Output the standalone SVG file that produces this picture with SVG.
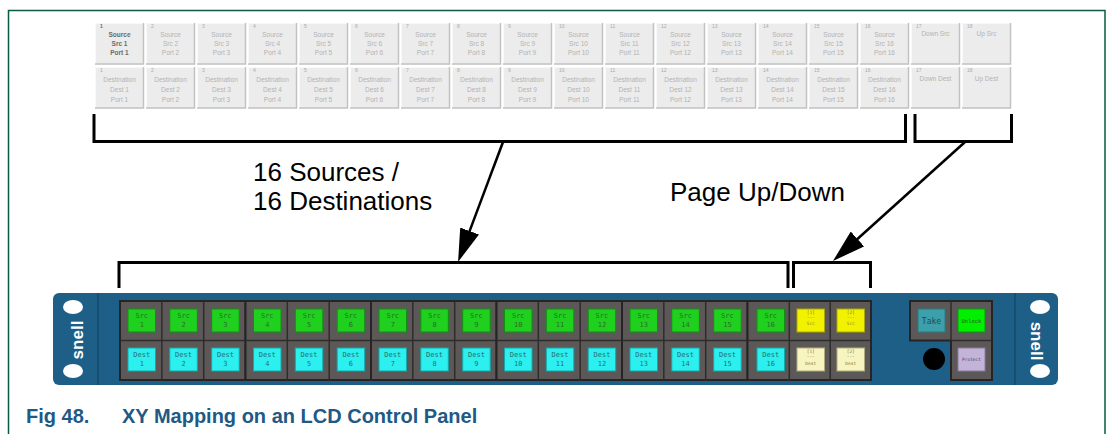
<svg xmlns="http://www.w3.org/2000/svg" xmlns:xlink="http://www.w3.org/1999/xlink" width="1113" height="434" viewBox="0 0 1113 434">
  <style>
    .frame { fill: none; stroke: #0b5a45; stroke-width: 1.5; }
    .kn { font-family: "Liberation Sans", Arial, sans-serif; font-size: 5px; fill: #ababab; }
    .kt { font-family: "Liberation Sans", Arial, sans-serif; font-size: 6.5px; fill: #b3b3b3; text-anchor: middle; }
    .on .kt, .on .kn { fill: #6a6a6a; font-weight: bold; }
    .brk { fill: none; stroke: #000; stroke-width: 3; }
    .arr { fill: none; stroke: #000; stroke-width: 2.5; }
    .lbl { font-family: "Liberation Sans", Arial, sans-serif; font-size: 26px; fill: #000; }
    .cap { font-family: "Liberation Sans", Arial, sans-serif; font-size: 20px; font-weight: bold; fill: #1e5a85; }
    .body { fill: #1e5f88; }
    .ear { stroke: #154a6b; stroke-width: 1.5; }
    .hole { fill: #fff; }
    .logo { font-family: "Liberation Sans", Arial, sans-serif; font-size: 17px; font-weight: bold; fill: #fff; text-anchor: middle; }
    .grp { fill: #5d5858; stroke: #262424; stroke-width: 2; }
    .sep { fill: none; stroke: #2f2c2c; stroke-width: 1.5; }
    .src { fill: #1fd01f; stroke: #139013; stroke-width: 1; }
    .dst { fill: #2cf0f0; stroke: #14a8a8; stroke-width: 1; }
    .pgs { fill: #f2f200; stroke: #a8a800; stroke-width: 1; }
    .pgd { fill: #f8f4bf; stroke: #b0ac80; stroke-width: 1; }
    .bt { font-family: "DejaVu Sans Mono", "Liberation Mono", monospace; font-size: 7px; text-anchor: middle; }
    .bt.s { fill: #2a6e2a; }
    .bt.d { fill: #2a6f6f; }
    .pt { font-family: "DejaVu Sans Mono", "Liberation Mono", monospace; font-size: 4.5px; text-anchor: middle; fill: #7a7a40; }
  </style>
  <defs>
    <!-- soft-key face used by the LCD grid -->
    <g id="key">
      <rect width="49" height="41.5" fill="#ececec"/>
      <path d="M0.5,41.5 V0.5 H49" fill="none" stroke="#f9f9f9" stroke-width="1"/>
      <path d="M0,41 H48.5 V0" fill="none" stroke="#c2c2c2" stroke-width="1.5"/>
    </g>
    <marker id="head" viewBox="0 0 33 20" refX="18" refY="10" markerWidth="33" markerHeight="20" markerUnits="userSpaceOnUse" orient="auto">
      <path d="M0,0 L33,10 L0,20 Z" fill="#000"/>
    </marker>
  </defs>

  <rect width="1113" height="434" fill="#fff"/>
  <path class="frame" d="M8.5,434 V10.5 H1105 V434"/>

  <!-- LCD soft-key grid: sources (top row) -->
  <g id="lcd-sources">
    <g class="on" transform="translate(95,23)"><use href="#key"/><text class="kn" x="5" y="5">1</text><text class="kt" x="24.5" y="13.6">Source</text><text class="kt" x="24.5" y="22.6">Src 1</text><text class="kt" x="24.5" y="31.6">Port 1</text></g>
    <g transform="translate(146,23)"><use href="#key"/><text class="kn" x="5" y="5">2</text><text class="kt" x="24.5" y="13.6">Source</text><text class="kt" x="24.5" y="22.6">Src 2</text><text class="kt" x="24.5" y="31.6">Port 2</text></g>
    <g transform="translate(197,23)"><use href="#key"/><text class="kn" x="5" y="5">3</text><text class="kt" x="24.5" y="13.6">Source</text><text class="kt" x="24.5" y="22.6">Src 3</text><text class="kt" x="24.5" y="31.6">Port 3</text></g>
    <g transform="translate(248,23)"><use href="#key"/><text class="kn" x="5" y="5">4</text><text class="kt" x="24.5" y="13.6">Source</text><text class="kt" x="24.5" y="22.6">Src 4</text><text class="kt" x="24.5" y="31.6">Port 4</text></g>
    <g transform="translate(299,23)"><use href="#key"/><text class="kn" x="5" y="5">5</text><text class="kt" x="24.5" y="13.6">Source</text><text class="kt" x="24.5" y="22.6">Src 5</text><text class="kt" x="24.5" y="31.6">Port 5</text></g>
    <g transform="translate(350,23)"><use href="#key"/><text class="kn" x="5" y="5">6</text><text class="kt" x="24.5" y="13.6">Source</text><text class="kt" x="24.5" y="22.6">Src 6</text><text class="kt" x="24.5" y="31.6">Port 6</text></g>
    <g transform="translate(401,23)"><use href="#key"/><text class="kn" x="5" y="5">7</text><text class="kt" x="24.5" y="13.6">Source</text><text class="kt" x="24.5" y="22.6">Src 7</text><text class="kt" x="24.5" y="31.6">Port 7</text></g>
    <g transform="translate(452,23)"><use href="#key"/><text class="kn" x="5" y="5">8</text><text class="kt" x="24.5" y="13.6">Source</text><text class="kt" x="24.5" y="22.6">Src 8</text><text class="kt" x="24.5" y="31.6">Port 8</text></g>
    <g transform="translate(503,23)"><use href="#key"/><text class="kn" x="5" y="5">9</text><text class="kt" x="24.5" y="13.6">Source</text><text class="kt" x="24.5" y="22.6">Src 9</text><text class="kt" x="24.5" y="31.6">Port 9</text></g>
    <g transform="translate(554,23)"><use href="#key"/><text class="kn" x="5" y="5">10</text><text class="kt" x="24.5" y="13.6">Source</text><text class="kt" x="24.5" y="22.6">Src 10</text><text class="kt" x="24.5" y="31.6">Port 10</text></g>
    <g transform="translate(605,23)"><use href="#key"/><text class="kn" x="5" y="5">11</text><text class="kt" x="24.5" y="13.6">Source</text><text class="kt" x="24.5" y="22.6">Src 11</text><text class="kt" x="24.5" y="31.6">Port 11</text></g>
    <g transform="translate(656,23)"><use href="#key"/><text class="kn" x="5" y="5">12</text><text class="kt" x="24.5" y="13.6">Source</text><text class="kt" x="24.5" y="22.6">Src 12</text><text class="kt" x="24.5" y="31.6">Port 12</text></g>
    <g transform="translate(707,23)"><use href="#key"/><text class="kn" x="5" y="5">13</text><text class="kt" x="24.5" y="13.6">Source</text><text class="kt" x="24.5" y="22.6">Src 13</text><text class="kt" x="24.5" y="31.6">Port 13</text></g>
    <g transform="translate(758,23)"><use href="#key"/><text class="kn" x="5" y="5">14</text><text class="kt" x="24.5" y="13.6">Source</text><text class="kt" x="24.5" y="22.6">Src 14</text><text class="kt" x="24.5" y="31.6">Port 14</text></g>
    <g transform="translate(809,23)"><use href="#key"/><text class="kn" x="5" y="5">15</text><text class="kt" x="24.5" y="13.6">Source</text><text class="kt" x="24.5" y="22.6">Src 15</text><text class="kt" x="24.5" y="31.6">Port 15</text></g>
    <g transform="translate(860,23)"><use href="#key"/><text class="kn" x="5" y="5">16</text><text class="kt" x="24.5" y="13.6">Source</text><text class="kt" x="24.5" y="22.6">Src 16</text><text class="kt" x="24.5" y="31.6">Port 16</text></g>
    <g transform="translate(911,23)"><use href="#key"/><text class="kn" x="5" y="5">17</text><text class="kt" x="24.5" y="12.5">Down Src</text></g>
    <g transform="translate(962,23)"><use href="#key"/><text class="kn" x="5" y="5">18</text><text class="kt" x="24.5" y="12.5">Up Src</text></g>
  </g>

  <!-- LCD soft-key grid: destinations (bottom row) -->
  <g id="lcd-destinations">
    <g transform="translate(95,67)"><use href="#key"/><text class="kn" x="5" y="5">1</text><text class="kt" x="24.5" y="15.3">Destination</text><text class="kt" x="24.5" y="25.3">Dest 1</text><text class="kt" x="24.5" y="34.6">Port 1</text></g>
    <g transform="translate(146,67)"><use href="#key"/><text class="kn" x="5" y="5">2</text><text class="kt" x="24.5" y="15.3">Destination</text><text class="kt" x="24.5" y="25.3">Dest 2</text><text class="kt" x="24.5" y="34.6">Port 2</text></g>
    <g transform="translate(197,67)"><use href="#key"/><text class="kn" x="5" y="5">3</text><text class="kt" x="24.5" y="15.3">Destination</text><text class="kt" x="24.5" y="25.3">Dest 3</text><text class="kt" x="24.5" y="34.6">Port 3</text></g>
    <g transform="translate(248,67)"><use href="#key"/><text class="kn" x="5" y="5">4</text><text class="kt" x="24.5" y="15.3">Destination</text><text class="kt" x="24.5" y="25.3">Dest 4</text><text class="kt" x="24.5" y="34.6">Port 4</text></g>
    <g transform="translate(299,67)"><use href="#key"/><text class="kn" x="5" y="5">5</text><text class="kt" x="24.5" y="15.3">Destination</text><text class="kt" x="24.5" y="25.3">Dest 5</text><text class="kt" x="24.5" y="34.6">Port 5</text></g>
    <g transform="translate(350,67)"><use href="#key"/><text class="kn" x="5" y="5">6</text><text class="kt" x="24.5" y="15.3">Destination</text><text class="kt" x="24.5" y="25.3">Dest 6</text><text class="kt" x="24.5" y="34.6">Port 6</text></g>
    <g transform="translate(401,67)"><use href="#key"/><text class="kn" x="5" y="5">7</text><text class="kt" x="24.5" y="15.3">Destination</text><text class="kt" x="24.5" y="25.3">Dest 7</text><text class="kt" x="24.5" y="34.6">Port 7</text></g>
    <g transform="translate(452,67)"><use href="#key"/><text class="kn" x="5" y="5">8</text><text class="kt" x="24.5" y="15.3">Destination</text><text class="kt" x="24.5" y="25.3">Dest 8</text><text class="kt" x="24.5" y="34.6">Port 8</text></g>
    <g transform="translate(503,67)"><use href="#key"/><text class="kn" x="5" y="5">9</text><text class="kt" x="24.5" y="15.3">Destination</text><text class="kt" x="24.5" y="25.3">Dest 9</text><text class="kt" x="24.5" y="34.6">Port 9</text></g>
    <g transform="translate(554,67)"><use href="#key"/><text class="kn" x="5" y="5">10</text><text class="kt" x="24.5" y="15.3">Destination</text><text class="kt" x="24.5" y="25.3">Dest 10</text><text class="kt" x="24.5" y="34.6">Port 10</text></g>
    <g transform="translate(605,67)"><use href="#key"/><text class="kn" x="5" y="5">11</text><text class="kt" x="24.5" y="15.3">Destination</text><text class="kt" x="24.5" y="25.3">Dest 11</text><text class="kt" x="24.5" y="34.6">Port 11</text></g>
    <g transform="translate(656,67)"><use href="#key"/><text class="kn" x="5" y="5">12</text><text class="kt" x="24.5" y="15.3">Destination</text><text class="kt" x="24.5" y="25.3">Dest 12</text><text class="kt" x="24.5" y="34.6">Port 12</text></g>
    <g transform="translate(707,67)"><use href="#key"/><text class="kn" x="5" y="5">13</text><text class="kt" x="24.5" y="15.3">Destination</text><text class="kt" x="24.5" y="25.3">Dest 13</text><text class="kt" x="24.5" y="34.6">Port 13</text></g>
    <g transform="translate(758,67)"><use href="#key"/><text class="kn" x="5" y="5">14</text><text class="kt" x="24.5" y="15.3">Destination</text><text class="kt" x="24.5" y="25.3">Dest 14</text><text class="kt" x="24.5" y="34.6">Port 14</text></g>
    <g transform="translate(809,67)"><use href="#key"/><text class="kn" x="5" y="5">15</text><text class="kt" x="24.5" y="15.3">Destination</text><text class="kt" x="24.5" y="25.3">Dest 15</text><text class="kt" x="24.5" y="34.6">Port 15</text></g>
    <g transform="translate(860,67)"><use href="#key"/><text class="kn" x="5" y="5">16</text><text class="kt" x="24.5" y="15.3">Destination</text><text class="kt" x="24.5" y="25.3">Dest 16</text><text class="kt" x="24.5" y="34.6">Port 16</text></g>
    <g transform="translate(911,67)"><use href="#key"/><text class="kn" x="5" y="5">17</text><text class="kt" x="24.5" y="13.5">Down Dest</text></g>
    <g transform="translate(962,67)"><use href="#key"/><text class="kn" x="5" y="5">18</text><text class="kt" x="24.5" y="13.5">Up Dest</text></g>
  </g>

  <!-- brackets and callout labels -->
  <g id="label-sources">
    <text class="lbl" x="253" y="181">16 Sources /</text>
    <text class="lbl" x="253" y="210">16 Destinations</text>
  </g>
  <g id="label-page">
    <text class="lbl" x="670" y="201">Page Up/Down</text>
  </g>

  <g id="connectors">
    <path class="brk" d="M94,114 V141.5 H905.5 V114"/>
    <path class="brk" d="M915,114 V141.5 H1011.5 V114"/>
    <path class="brk" d="M119,288 V262.5 H788 V288"/>
    <path class="brk" d="M793.5,288 V262.5 H870.5 V288"/>
    <path class="arr" d="M503,142 L463.3,247.9" marker-end="url(#head)"/>
    <path class="arr" d="M965,142 L844.1,251" marker-end="url(#head)"/>
  </g>

  <!-- hardware control panel -->
  <g id="panel">
    <rect class="body" x="53" y="293" width="1005" height="92" rx="6"/>
    <line class="ear" x1="98" y1="293" x2="98" y2="385"/>
    <line class="ear" x1="1015" y1="293" x2="1015" y2="385"/>
    <ellipse class="hole" cx="73" cy="307" rx="10" ry="7"/>
    <ellipse class="hole" cx="73" cy="371" rx="10" ry="7"/>
    <ellipse class="hole" cx="1040" cy="307" rx="10" ry="7"/>
    <ellipse class="hole" cx="1040" cy="371" rx="10" ry="7"/>
    <text class="logo" transform="translate(83,340) rotate(-90)">snell</text>
    <text class="logo" transform="translate(1031,341) rotate(90)">snell</text>
  </g>

  <g id="keys-1-3">
    <rect class="grp" x="120" y="301" width="125.5" height="79"/>
    <path class="sep" d="M161.8,301 V380 M203.7,301 V380 M120,340.5 H245.5"/>
    <rect class="src" x="128" y="309" width="27.5" height="23"/><text class="bt s" x="141.75" y="317.5">Src</text><text class="bt s" x="141.75" y="327">1</text>
    <rect class="src" x="169.8" y="309" width="27.5" height="23"/><text class="bt s" x="183.55" y="317.5">Src</text><text class="bt s" x="183.55" y="327">2</text>
    <rect class="src" x="211.7" y="309" width="27.5" height="23"/><text class="bt s" x="225.45" y="317.5">Src</text><text class="bt s" x="225.45" y="327">3</text>
    <rect class="dst" x="128" y="348" width="27.5" height="23"/><text class="bt d" x="141.75" y="356.5">Dest</text><text class="bt d" x="141.75" y="366">1</text>
    <rect class="dst" x="169.8" y="348" width="27.5" height="23"/><text class="bt d" x="183.55" y="356.5">Dest</text><text class="bt d" x="183.55" y="366">2</text>
    <rect class="dst" x="211.7" y="348" width="27.5" height="23"/><text class="bt d" x="225.45" y="356.5">Dest</text><text class="bt d" x="225.45" y="366">3</text>
  </g>
  <g id="keys-4-6">
    <rect class="grp" x="245.5" y="301" width="125.5" height="79"/>
    <path class="sep" d="M287.3,301 V380 M329.2,301 V380 M245.5,340.5 H371"/>
    <rect class="src" x="253.5" y="309" width="27.5" height="23"/><text class="bt s" x="267.25" y="317.5">Src</text><text class="bt s" x="267.25" y="327">4</text>
    <rect class="src" x="295.3" y="309" width="27.5" height="23"/><text class="bt s" x="309.05" y="317.5">Src</text><text class="bt s" x="309.05" y="327">5</text>
    <rect class="src" x="337.2" y="309" width="27.5" height="23"/><text class="bt s" x="350.95" y="317.5">Src</text><text class="bt s" x="350.95" y="327">6</text>
    <rect class="dst" x="253.5" y="348" width="27.5" height="23"/><text class="bt d" x="267.25" y="356.5">Dest</text><text class="bt d" x="267.25" y="366">4</text>
    <rect class="dst" x="295.3" y="348" width="27.5" height="23"/><text class="bt d" x="309.05" y="356.5">Dest</text><text class="bt d" x="309.05" y="366">5</text>
    <rect class="dst" x="337.2" y="348" width="27.5" height="23"/><text class="bt d" x="350.95" y="356.5">Dest</text><text class="bt d" x="350.95" y="366">6</text>
  </g>
  <g id="keys-7-9">
    <rect class="grp" x="371" y="301" width="125.5" height="79"/>
    <path class="sep" d="M412.8,301 V380 M454.7,301 V380 M371,340.5 H496.5"/>
    <rect class="src" x="379" y="309" width="27.5" height="23"/><text class="bt s" x="392.75" y="317.5">Src</text><text class="bt s" x="392.75" y="327">7</text>
    <rect class="src" x="420.8" y="309" width="27.5" height="23"/><text class="bt s" x="434.55" y="317.5">Src</text><text class="bt s" x="434.55" y="327">8</text>
    <rect class="src" x="462.7" y="309" width="27.5" height="23"/><text class="bt s" x="476.45" y="317.5">Src</text><text class="bt s" x="476.45" y="327">9</text>
    <rect class="dst" x="379" y="348" width="27.5" height="23"/><text class="bt d" x="392.75" y="356.5">Dest</text><text class="bt d" x="392.75" y="366">7</text>
    <rect class="dst" x="420.8" y="348" width="27.5" height="23"/><text class="bt d" x="434.55" y="356.5">Dest</text><text class="bt d" x="434.55" y="366">8</text>
    <rect class="dst" x="462.7" y="348" width="27.5" height="23"/><text class="bt d" x="476.45" y="356.5">Dest</text><text class="bt d" x="476.45" y="366">9</text>
  </g>
  <g id="keys-10-12">
    <rect class="grp" x="496.5" y="301" width="125.5" height="79"/>
    <path class="sep" d="M538.3,301 V380 M580.2,301 V380 M496.5,340.5 H622"/>
    <rect class="src" x="504.5" y="309" width="27.5" height="23"/><text class="bt s" x="518.25" y="317.5">Src</text><text class="bt s" x="518.25" y="327">10</text>
    <rect class="src" x="546.3" y="309" width="27.5" height="23"/><text class="bt s" x="560.05" y="317.5">Src</text><text class="bt s" x="560.05" y="327">11</text>
    <rect class="src" x="588.2" y="309" width="27.5" height="23"/><text class="bt s" x="601.95" y="317.5">Src</text><text class="bt s" x="601.95" y="327">12</text>
    <rect class="dst" x="504.5" y="348" width="27.5" height="23"/><text class="bt d" x="518.25" y="356.5">Dest</text><text class="bt d" x="518.25" y="366">10</text>
    <rect class="dst" x="546.3" y="348" width="27.5" height="23"/><text class="bt d" x="560.05" y="356.5">Dest</text><text class="bt d" x="560.05" y="366">11</text>
    <rect class="dst" x="588.2" y="348" width="27.5" height="23"/><text class="bt d" x="601.95" y="356.5">Dest</text><text class="bt d" x="601.95" y="366">12</text>
  </g>
  <g id="keys-13-15">
    <rect class="grp" x="622" y="301" width="125.5" height="79"/>
    <path class="sep" d="M663.8,301 V380 M705.7,301 V380 M622,340.5 H747.5"/>
    <rect class="src" x="630" y="309" width="27.5" height="23"/><text class="bt s" x="643.75" y="317.5">Src</text><text class="bt s" x="643.75" y="327">13</text>
    <rect class="src" x="671.8" y="309" width="27.5" height="23"/><text class="bt s" x="685.55" y="317.5">Src</text><text class="bt s" x="685.55" y="327">14</text>
    <rect class="src" x="713.7" y="309" width="27.5" height="23"/><text class="bt s" x="727.45" y="317.5">Src</text><text class="bt s" x="727.45" y="327">15</text>
    <rect class="dst" x="630" y="348" width="27.5" height="23"/><text class="bt d" x="643.75" y="356.5">Dest</text><text class="bt d" x="643.75" y="366">13</text>
    <rect class="dst" x="671.8" y="348" width="27.5" height="23"/><text class="bt d" x="685.55" y="356.5">Dest</text><text class="bt d" x="685.55" y="366">14</text>
    <rect class="dst" x="713.7" y="348" width="27.5" height="23"/><text class="bt d" x="727.45" y="356.5">Dest</text><text class="bt d" x="727.45" y="366">15</text>
  </g>
  <g id="keys-16-page">
    <rect class="grp" x="747.5" y="301" width="123.5" height="79"/>
    <path class="sep" d="M789.3,301 V380 M830.2,301 V380 M747.5,340.5 H871"/>
    <rect class="src" x="757" y="309" width="27.5" height="23"/><text class="bt s" x="770.75" y="317.5">Src</text><text class="bt s" x="770.75" y="327">16</text>
    <rect class="dst" x="757" y="348" width="27.5" height="23"/><text class="bt d" x="770.75" y="356.5">Dest</text><text class="bt d" x="770.75" y="366">16</text>
    <rect class="pgs" x="797" y="309" width="27.5" height="23"/><text class="pt" x="810.75" y="314">[1]</text><text class="pt" x="810.75" y="319">---</text><text class="pt" x="810.75" y="324.5">Src</text>
    <rect class="pgs" x="837" y="309" width="27.5" height="23"/><text class="pt" x="850.75" y="314">[2]</text><text class="pt" x="850.75" y="319">---</text><text class="pt" x="850.75" y="324.5">Src</text>
    <rect class="pgd" x="797" y="348" width="27.5" height="23"/><text class="pt" x="810.75" y="353">[1]</text><text class="pt" x="810.75" y="358">---</text><text class="pt" x="810.75" y="365">Dest</text>
    <rect class="pgd" x="837" y="348" width="27.5" height="23"/><text class="pt" x="850.75" y="353">[2]</text><text class="pt" x="850.75" y="358">---</text><text class="pt" x="850.75" y="365">Dest</text>
  </g>
  <g id="keys-take">
    <path class="grp" d="M910,301 H992 V380 H951 V340.5 H910 Z"/>
    <path class="sep" d="M951,301 V340.5 H992"/>
    <rect x="918" y="309" width="27" height="23" fill="#3d9fa9" stroke="#2a7a82"/>
    <text x="931.5" y="323.5" font-family="DejaVu Sans Mono, monospace" font-size="8px" fill="#1d4e55" text-anchor="middle">Take</text>
    <rect x="958" y="309" width="27" height="23" fill="#00f000" stroke="#0a9a0a"/>
    <text x="971.5" y="323" font-family="DejaVu Sans Mono, monospace" font-size="5.5px" fill="#1a5a1a" text-anchor="middle">Unlock</text>
    <rect x="958" y="348" width="27" height="23" fill="#c3b3d9" stroke="#8a7aa0"/>
    <text x="971.5" y="361" font-family="DejaVu Sans Mono, monospace" font-size="4.5px" fill="#4a3f5a" text-anchor="middle">Protect</text>
    <circle cx="934" cy="359" r="11" fill="#000"/>
  </g>

  <!-- caption -->
  <g id="caption">
    <text class="cap" x="26" y="423">Fig 48.</text>
    <text class="cap" x="122" y="423">XY Mapping on an LCD Control Panel</text>
  </g>
</svg>
